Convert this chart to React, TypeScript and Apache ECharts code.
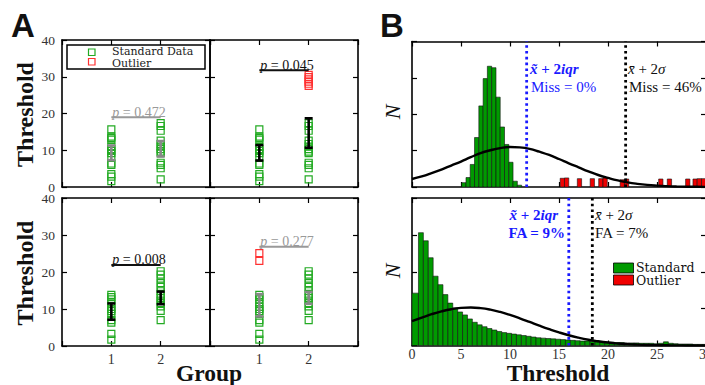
import React, { useEffect, useRef } from 'react';
import * as echarts from 'echarts';

// ---------------- Panel A data ----------------
const groupTicks = [1, 2];
const topStdG1 = [15.7, 13.7, 13.3, 12.9, 10.9, 10.3, 9.8, 9.2, 8.2, 6.4, 6.0, 3.5, 2.8, 1.6];
const topStdG2 = [17.4, 16.6, 15.3, 12.6, 11.7, 11.0, 10.3, 9.6, 9.2, 6.6, 6.0, 5.1, 2.1];
const topOutG2 = [30.5, 29.9, 29.3, 28.7, 28.1, 27.5];
const botStdG1 = [13.8, 13.2, 12.6, 11.5, 10.6, 10.0, 9.4, 8.7, 7.0, 6.3, 3.3, 1.7];
const botStdG2 = [20.2, 19.3, 18.2, 17.0, 16.0, 14.8, 13.9, 13.0, 12.3, 11.6, 10.7, 9.5, 7.0];
const botOutG1 = [25.1, 23.0];

// error bars (mean, standard error) per panel: TL, TR, BL, BR
const tlMean = [9.3, 10.4];
const tlSE = [2.0, 2.1];
const trMean = [9.3, 14.7];
const trSE = [2.1, 4.0];
const blMean = [9.3, 13.0];
const blSE = [2.2, 1.7];
const brMean = [11.0, 13.0];
const brSE = [3.0, 1.6];

// p-value brackets per panel: TL, TR, BL, BR
const pLabels = ['0.472', '0.045', '0.008', '0.277'];
const pHeights = [19.0, 31.8, 21.9, 26.8];
const pSignificant = [false, true, true, false];

// ---------------- Panel B data ----------------
const topStdEdges = [5.07, 5.51, 5.94, 6.38, 6.82, 7.26, 7.69, 8.13, 8.57, 9.0, 9.44, 9.88, 10.31, 10.75, 11.19];
const topStdCounts = [0.12, 0.26, 0.62, 1.36, 2.23, 2.98, 3.32, 3.28, 2.47, 1.65, 1.17, 0.68, 0.16, 0.05];
const topOutStarts = [15.12, 15.56, 16.87, 18.18, 19.05, 19.49, 21.24, 21.68, 25.17, 26.05, 27.92, 28.67, 29.1, 29.54];
const topOutCounts = [0.24, 0.25, 0.23, 0.23, 0.23, 0.25, 0.2, 0.22, 0.22, 0.22, 0.22, 0.22, 0.23, 0.23];
const topBinWidth = 0.437;

const botStdEdges = [0, 0.66, 1.16, 1.66, 2.16, 2.66, 3.16, 3.66, 4.16, 4.66, 5.16, 5.66, 6.16, 6.66, 7.16, 7.66, 8.16, 8.66, 9.16, 9.66, 10.16, 10.66, 11.16, 11.66, 12.16, 12.66, 13.16, 13.66, 14.16, 14.66, 15.16, 15.66, 16.16, 16.66, 17.16, 17.66, 18.16, 18.66, 19.16, 19.66, 20.16, 20.66, 21.16, 21.66, 22.16, 22.66, 23.16, 23.66, 24.16, 24.66, 25.16, 25.66, 26.16, 26.66, 27.16, 27.66, 28.16, 28.66, 29.16, 29.66, 30.16];
const botStdCounts = [1.42, 3.06, 2.84, 2.38, 1.88, 1.65, 1.38, 1.15, 1.02, 0.91, 0.83, 0.72, 0.63, 0.56, 0.51, 0.46, 0.42, 0.38, 0.35, 0.33, 0.31, 0.29, 0.27, 0.25, 0.23, 0.21, 0.2, 0.19, 0.18, 0.17, 0.16, 0.15, 0.14, 0.13, 0.12, 0.12, 0.11, 0.1, 0.1, 0.09, 0.09, 0.08, 0.08, 0.07, 0.07, 0.07, 0.06, 0.06, 0.06, 0.05, 0.06, 0.1, 0.06, 0.05, 0.04, 0.04, 0.04, 0.03, 0.03, 0.03];

const fitX = [0, 1, 2, 3, 4, 5, 6, 7, 8, 9, 10, 11, 12, 13, 14, 15, 16, 17, 18, 19, 20, 21, 22, 23, 24, 25, 26, 27, 28, 29, 30];
const topFit = [0.22, 0.29, 0.38, 0.48, 0.59, 0.7, 0.82, 0.93, 1.01, 1.07, 1.1, 1.09, 1.05, 0.97, 0.88, 0.77, 0.65, 0.54, 0.43, 0.33, 0.25, 0.18, 0.127, 0.087, 0.057, 0.037, 0.023, 0.014, 0.008, 0.005, 0.003];
const botFit = [0.66, 0.757, 0.848, 0.925, 0.984, 1.019, 1.03, 1.014, 0.973, 0.91, 0.83, 0.738, 0.639, 0.539, 0.444, 0.356, 0.278, 0.212, 0.157, 0.114, 0.08, 0.055, 0.037, 0.024, 0.015, 0.01, 0.006, 0.003, 0.002, 0.001, 0.001];

const topIqrLine = 11.7;
const topSigmaLine = 21.8;
const botIqrLine = 16.0;
const botSigmaLine = 18.4;

// ---------------- styling ----------------
const SERIF = 'Liberation Serif';
const SERIF_WIDE = 'DejaVu Serif';
const SANS = 'Liberation Sans';
const MK_GREEN = '#22aa22';
const MK_RED = '#ff3030';
const BAR_GREEN = '#009a00';
const BAR_RED = '#f00000';
const BLUE = '#1a1aff';

const aGrids = [
  { left: 62, top: 40, width: 148, height: 147 },
  { left: 210, top: 40, width: 148, height: 147 },
  { left: 62, top: 198, width: 148, height: 148 },
  { left: 210, top: 198, width: 148, height: 148 },
];
const bGrids = [
  { left: 412, top: 41.5, width: 294, height: 145.5 },
  { left: 412, top: 198, width: 294, height: 147.5 },
];

const axisLine = { show: true, onZero: false, lineStyle: { color: '#000', width: 1.6 } };
const tick = { show: true, inside: true, length: 5, lineStyle: { color: '#000', width: 1.2 } };
const labelBase = { fontFamily: SERIF, fontSize: 14, color: '#333' };

function buildOption(): any {
  const grid: any[] = [...aGrids, ...bGrids].map((g) => ({ ...g, containLabel: false }));
  const xAxis: any[] = [];
  const yAxis: any[] = [];
  aGrids.forEach((_, i) => {
    const base = { type: 'value', gridIndex: i, min: 0, max: 3, interval: 1, axisLine, axisTick: tick, splitLine: { show: false } };
    xAxis.push({ ...base, position: 'bottom', axisLabel: { show: i >= 2, margin: 6, ...labelBase, formatter: (v: number) => (groupTicks.includes(v) ? String(v) : '') } });
    xAxis.push({ ...base, position: 'top', axisLabel: { show: false } });
    const ybase = { type: 'value', gridIndex: i, min: 0, max: 40, interval: 10, axisLine, axisTick: tick, splitLine: { show: false } };
    yAxis.push({ ...ybase, position: 'left', axisLabel: { show: i % 2 === 0, margin: 7, ...labelBase, fontSize: 13.5, lineHeight: 10 } });
    yAxis.push({ ...ybase, position: 'right', axisLabel: { show: false } });
  });
  bGrids.forEach((_, j) => {
    const gi = 4 + j;
    const base = { type: 'value', gridIndex: gi, min: 0, max: 30, interval: 5, axisLine, axisTick: tick, splitLine: { show: false } };
    xAxis.push({ ...base, position: 'bottom', axisLabel: { show: j === 1, margin: 3, ...labelBase, lineHeight: 12 } });
    xAxis.push({ ...base, position: 'top', axisLabel: { show: false } });
    const ybase = { type: 'value', gridIndex: gi, min: 0, max: 4, interval: 1, axisLine, axisTick: tick, splitLine: { show: false } };
    yAxis.push({ ...ybase, position: 'left', axisLabel: { show: false } });
    yAxis.push({ ...ybase, position: 'right', axisLabel: { show: false } });
  });

  const series: any[] = [];

  const scatter = (g: number, pts: number[][], color: string) => ({
    type: 'scatter',
    xAxisIndex: 2 * g,
    yAxisIndex: 2 * g,
    data: pts,
    symbol: 'rect',
    symbolSize: 7,
    z: 3,
    itemStyle: { color: 'rgba(255,255,255,0)', borderColor: color, borderWidth: 1.2, opacity: 1 },
    emphasis: { disabled: true },
  });
  const pts = (x: number, arr: number[]) => arr.map((v) => [x, v]);

  const errBars = (g: number, means: number[], ses: number[], color: string) => ({
    type: 'custom',
    xAxisIndex: 2 * g,
    yAxisIndex: 2 * g,
    z: 5,
    data: groupTicks.map((x, k) => [x, means[k], ses[k]]),
    renderItem: (_p: any, api: any) => {
      const x = api.value(0);
      const m = api.value(1);
      const s = api.value(2);
      const a = api.coord([x, m + s]);
      const b = api.coord([x, m - s]);
      const st = { stroke: color, lineWidth: 2.6 };
      return {
        type: 'group',
        children: [
          { type: 'line', shape: { x1: a[0], y1: a[1], x2: b[0], y2: b[1] }, style: st },
          { type: 'line', shape: { x1: a[0] - 4, y1: a[1], x2: a[0] + 4, y2: a[1] }, style: st },
          { type: 'line', shape: { x1: b[0] - 4, y1: b[1], x2: b[0] + 4, y2: b[1] }, style: st },
        ],
      };
    },
  });

  const pBracket = (g: number) => {
    const color = pSignificant[g] ? '#111' : '#999';
    return {
      type: 'custom',
      xAxisIndex: 2 * g,
      yAxisIndex: 2 * g,
      z: 6,
      data: [[groupTicks[0], pHeights[g], groupTicks[1]]],
      renderItem: (_p: any, api: any) => {
        const a = api.coord([api.value(0), api.value(1)]);
        const b = api.coord([api.value(2), api.value(1)]);
        return {
          type: 'group',
          children: [
            { type: 'line', shape: { x1: a[0], y1: a[1], x2: b[0], y2: b[1] }, style: { stroke: color, lineWidth: 2 } },
            {
              type: 'text',
              x: a[0] + 1,
              y: a[1] + 2,
              style: {
                text: '{i|p} = ' + pLabels[g],
                rich: { i: { fontStyle: 'italic', fontFamily: SERIF, fontSize: 14, fill: color } },
                fontFamily: SERIF,
                fontSize: 14,
                fill: color,
                align: 'left',
                verticalAlign: 'bottom',
              },
            },
          ],
        };
      },
    };
  };

  // Panel A series
  series.push(scatter(0, [...pts(1, topStdG1), ...pts(2, topStdG2)], MK_GREEN));
  series.push(errBars(0, tlMean, tlSE, '#888'));
  series.push(pBracket(0));

  series.push(scatter(1, [...pts(1, topStdG1), ...pts(2, topStdG2)], MK_GREEN));
  series.push(scatter(1, pts(2, topOutG2), MK_RED));
  series.push(errBars(1, trMean, trSE, '#000'));
  series.push(pBracket(1));

  series.push(scatter(2, [...pts(1, botStdG1), ...pts(2, botStdG2)], MK_GREEN));
  series.push(errBars(2, blMean, blSE, '#000'));
  series.push(pBracket(2));

  series.push(scatter(3, [...pts(1, botStdG1), ...pts(2, botStdG2)], MK_GREEN));
  series.push(scatter(3, pts(1, botOutG1), MK_RED));
  series.push(errBars(3, brMean, brSE, '#888'));
  series.push(pBracket(3));

  // Panel B series
  const hist = (j: number, lefts: number[], rights: number[], counts: number[], color: string) => ({
    type: 'custom',
    xAxisIndex: 8 + 2 * j,
    yAxisIndex: 8 + 2 * j,
    z: 2,
    clip: true,
    data: lefts.map((l, k) => [l, counts[k], rights[k]]),
    renderItem: (_p: any, api: any) => {
      const p0 = api.coord([api.value(0), api.value(1)]);
      const p1 = api.coord([api.value(2), 0]);
      return {
        type: 'rect',
        shape: { x: p0[0], y: p0[1], width: p1[0] - p0[0], height: p1[1] - p0[1] },
        style: { fill: color, stroke: '#111', lineWidth: 0.6 },
      };
    },
  });
  series.push(hist(0, topStdEdges.slice(0, -1), topStdEdges.slice(1), topStdCounts, BAR_GREEN));
  series.push(hist(0, topOutStarts, topOutStarts.map((s) => s + topBinWidth), topOutCounts, BAR_RED));
  series.push(hist(1, botStdEdges.slice(0, -1), botStdEdges.slice(1), botStdCounts, BAR_GREEN));

  const fit = (j: number, ys: number[]) => ({
    type: 'line',
    xAxisIndex: 8 + 2 * j,
    yAxisIndex: 8 + 2 * j,
    data: fitX.map((x, k) => [x, ys[k]]),
    smooth: true,
    showSymbol: false,
    symbol: 'none',
    z: 4,
    lineStyle: { color: '#000', width: 2.4 },
  });
  series.push(fit(0, topFit));
  series.push(fit(1, botFit));

  const vline = (j: number, x: number, color: string) => ({
    type: 'line',
    xAxisIndex: 8 + 2 * j,
    yAxisIndex: 8 + 2 * j,
    data: [[x, 0], [x, 4]],
    showSymbol: false,
    symbol: 'none',
    z: 5,
    lineStyle: { color, width: 2.8, type: [2.6, 3.2] },
  });
  series.push(vline(0, topIqrLine, BLUE));
  series.push(vline(0, topSigmaLine, '#000'));
  series.push(vline(1, botIqrLine, BLUE));
  series.push(vline(1, botSigmaLine, '#000'));

  const txt = (x: number, y: number, text: string, extra: any = {}) => ({
    type: 'text',
    x,
    y,
    z: 20,
    style: { text, fontFamily: SERIF, fontSize: 15, fill: '#111', align: 'left', verticalAlign: 'middle', ...extra },
  });
  const italicRich = (color: string, weight: string) => ({
    i: { fontStyle: 'italic', fontFamily: SERIF, fontSize: 15, fill: color, fontWeight: weight },
  });

  const graphic: any[] = [
    txt(11, 25, 'A', { fontFamily: SANS, fontWeight: 'bold', fontSize: 33 }),
    txt(380, 25, 'B', { fontFamily: SANS, fontWeight: 'bold', fontSize: 33 }),
    { type: 'text', x: 25, y: 114.5, rotation: Math.PI / 2, z: 20, style: { text: 'Threshold', fontFamily: SERIF, fontWeight: 'bold', fontSize: 24, fill: '#111', align: 'center', verticalAlign: 'middle' } },
    { type: 'text', x: 25, y: 273, rotation: Math.PI / 2, z: 20, style: { text: 'Threshold', fontFamily: SERIF, fontWeight: 'bold', fontSize: 24, fill: '#111', align: 'center', verticalAlign: 'middle' } },
    txt(209, 372.5, 'Group', { fontWeight: 'bold', fontSize: 23.5, align: 'center', lineHeight: 20 }),
    txt(558, 372.5, 'Threshold', { fontWeight: 'bold', fontSize: 23.5, align: 'center', lineHeight: 18 }),
    { type: 'text', x: 392, y: 112, rotation: Math.PI / 2, z: 20, style: { text: 'N', fontFamily: SERIF, fontStyle: 'italic', fontSize: 22, fill: '#111', align: 'center', verticalAlign: 'middle' } },
    { type: 'text', x: 392, y: 271, rotation: Math.PI / 2, z: 20, style: { text: 'N', fontFamily: SERIF, fontStyle: 'italic', fontSize: 22, fill: '#111', align: 'center', verticalAlign: 'middle' } },
    // Panel B top annotations
    txt(530, 69, '{i|x\u0303} + 2{i|iqr}', { fill: BLUE, fontWeight: 'bold', rich: italicRich(BLUE, 'bold') }),
    txt(531, 87, 'Miss = 0%', { fill: BLUE }),
    txt(628, 69, '{i|x\u0304} + 2{i|\u03c3}', { rich: italicRich('#111', 'normal') }),
    txt(629, 87, 'Miss = 46%'),
    // Panel B bottom annotations
    txt(558, 215, '{i|x\u0303} + 2{i|iqr}', { fill: BLUE, fontWeight: 'bold', align: 'right', rich: italicRich(BLUE, 'bold') }),
    txt(565, 233, 'FA = 9%', { fill: BLUE, fontWeight: 'bold', align: 'right' }),
    txt(595, 215, '{i|x\u0304} + 2{i|\u03c3}', { rich: italicRich('#111', 'normal') }),
    txt(595, 233, 'FA = 7%'),
    // Legend A
    { type: 'rect', z: 20, shape: { x: 67, y: 45, width: 138, height: 24 }, style: { fill: '#fff', stroke: '#000', lineWidth: 1.5 } },
    { type: 'rect', z: 21, shape: { x: 88.5, y: 49, width: 6.5, height: 6.5 }, style: { fill: 'none', stroke: MK_GREEN, lineWidth: 1.2 } },
    { type: 'rect', z: 21, shape: { x: 88.5, y: 58.5, width: 6.5, height: 6.5 }, style: { fill: 'none', stroke: MK_RED, lineWidth: 1.2 } },
    { ...txt(112, 51.5, 'Standard Data', { fontFamily: SERIF_WIDE, fontSize: 11, lineHeight: 9, fill: '#222' }), z: 21 },
    { ...txt(112, 63.2, 'Outlier', { fontFamily: SERIF_WIDE, fontSize: 11, lineHeight: 9, fill: '#222' }), z: 21 },
    // Legend B
    { type: 'rect', z: 21, shape: { x: 613.5, y: 263, width: 20, height: 10 }, style: { fill: BAR_GREEN, stroke: '#000', lineWidth: 0.8 } },
    { type: 'rect', z: 21, shape: { x: 613.5, y: 275, width: 20, height: 10 }, style: { fill: BAR_RED, stroke: '#000', lineWidth: 0.8 } },
    { ...txt(636, 267.5, 'Standard', { fontFamily: SERIF_WIDE, fontSize: 12.5, lineHeight: 10 }), z: 21 },
    { ...txt(636, 280.5, 'Outlier', { fontFamily: SERIF_WIDE, fontSize: 12.5, lineHeight: 10 }), z: 21 },
  ];

  return {
    animation: false,
    backgroundColor: '#fff',
    textStyle: { fontFamily: SERIF },
    grid,
    xAxis,
    yAxis,
    series,
    graphic,
  };
}

export default function App() {
  const ref = useRef<HTMLDivElement>(null);
  useEffect(() => {
    const chart = echarts.init(ref.current as HTMLDivElement, null, { renderer: 'svg' });
    chart.setOption(buildOption());
    return () => chart.dispose();
  }, []);
  return (
    <div style={{ position: 'fixed', left: 0, top: 0, width: 705, height: 385, overflow: 'hidden', background: '#fff' }}>
      <div ref={ref} style={{ width: 720, height: 385 }} />
    </div>
  );
}
